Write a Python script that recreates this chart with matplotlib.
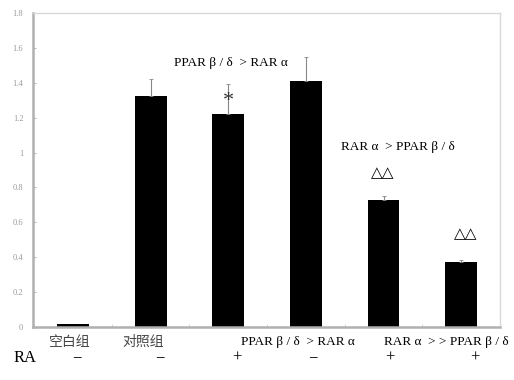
import matplotlib
matplotlib.use("Agg")
import matplotlib.pyplot as plt
import numpy as np

plt.rcParams['font.family'] = ['Liberation Serif', 'Noto Sans CJK SC', 'DejaVu Sans']

groups = ["空白组", "对照组", "", "PPAR β / δ  > RAR α", "", "RAR α  > > PPAR β / δ"]
values = [0.015, 1.326, 1.223, 1.41, 0.728, 0.375]
errors = [0.0, 0.095, 0.17, 0.136, 0.025, 0.009]
ra_signs = ["−", "−", "+", "−", "+", "+"]
yticks = [0, 0.2, 0.4, 0.6, 0.8, 1.0, 1.2, 1.4, 1.6, 1.8]
ytick_labels = ["0", "0.2", "0.4", "0.6", "0.8", "1", "1.2", "1.4", "1.6", "1.8"]

fig = plt.figure(figsize=(5.14, 3.8), dpi=100)
ax = fig.add_axes([33/514, 1-327/380, (500-33)/514, (327-13)/380])

x = np.arange(len(values))
ax.bar(x, values, width=0.41, color='black', zorder=2)
ax.errorbar(x[1:], values[1:], yerr=[np.zeros(5), errors[1:]], fmt='none',
            ecolor='#888888', elinewidth=0.8, capsize=1.5, capthick=0.6, zorder=3)

ax.set_xlim(-0.515, 5.5)
ax.set_ylim(0, 1.8)
ax.set_yticks(yticks)
ax.set_yticklabels(ytick_labels, fontsize=6, color='#999999')
ax.tick_params(axis='y', direction='in', length=2, width=0.6, color='#aaaaaa', pad=7)
ax.set_xticks(np.arange(-0.5, 6, 1))
ax.set_xticklabels([])
ax.tick_params(axis='x', direction='in', length=2, width=0.6, color='#cccccc')

for side in ['top', 'right']:
    ax.spines[side].set_color('#d8d8d8')
    ax.spines[side].set_linewidth(1.0)
ax.spines['left'].set_color('#b0b0b0')
ax.spines['left'].set_linewidth(1.8)
ax.spines['bottom'].set_color('#b0b0b0')
ax.spines['bottom'].set_linewidth(1.8)

# annotations
ax.text(2.04, 1.515, "PPAR β / δ  > RAR α", ha='center', va='center', fontsize=9.5)
ax.text(2.0, 1.29, "*", ha='center', va='center', fontsize=16, color='#333333')
ax.text(4.19, 1.03, "RAR α  > PPAR β / δ", ha='center', va='center', fontsize=9.5)
ax.text(3.99, 0.885, "△△", ha='center', va='center', fontsize=11, family=['DejaVu Sans'])
ax.text(5.06, 0.535, "△△", ha='center', va='center', fontsize=11, family=['DejaVu Sans'])

# x category labels
label_x = [70, 143, None, 298, None, 446]
for lbl, px in zip(groups, label_x):
    if px is None or not lbl:
        continue
    if lbl[0] in "空对":
        fig.text(px/514, 1-342/380, lbl, ha='center', va='center', fontsize=10,
                 family=['Noto Sans CJK SC', 'Liberation Serif'], color='#444444')
    else:
        fig.text(px/514, 1-342/380, lbl, ha='center', va='center', fontsize=9.5,
                 family=['Liberation Serif', 'DejaVu Sans'])

# RA row
fig.text(25/514, 1-358/380, "RA", ha='center', va='center', fontsize=12)
ra_x = [77, 160, 237, 313, 390, 475]
for s, px in zip(ra_signs, ra_x):
    fig.text(px/514, 1-358/380, s, ha='center', va='center', fontsize=12)

fig.savefig("out.png", dpi=100)
